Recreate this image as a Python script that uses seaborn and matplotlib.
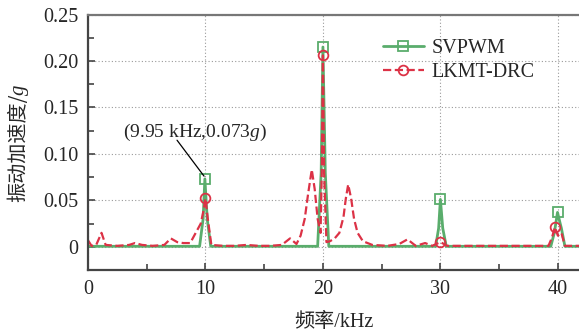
import matplotlib
matplotlib.use("Agg")
import matplotlib.pyplot as plt
import seaborn as sns

# Vibration acceleration spectra (kHz, g)
svpwm_freq = [0.0, 9.5, 9.8, 9.95, 10.15, 10.45, 19.55, 19.85, 20.0, 20.2, 20.5,
              29.6, 29.85, 30.0, 30.2, 30.5, 39.4, 39.7, 39.97, 40.2, 40.3, 40.6, 41.8]
svpwm_acc = [0.0005, 0.0005, 0.03, 0.073, 0.03, 0.0005, 0.0005, 0.08, 0.215, 0.08, 0.0005,
             0.0005, 0.02, 0.051, 0.02, 0.0005, 0.0005, 0.015, 0.037, 0.025, 0.02, 0.0005,
             0.0005]
svpwm_marks = [3, 8, 13, 18]

lkmt_freq = [0.0, 0.3, 0.7, 1.15, 1.5, 2.5, 3.5, 4.0, 4.6, 5.5, 6.5, 7.05, 7.6, 8.1,
             8.7, 9.3, 9.6, 9.85, 10.0, 10.2, 10.5, 11.5, 12.5, 13.5, 14.5, 15.5,
             16.5, 17.2, 17.75, 18.1, 18.45, 18.75, 19.05, 19.3, 19.55, 19.8, 19.9,
             20.0, 20.1, 20.3, 20.6, 21.0, 21.4, 21.75, 21.95, 22.15, 22.4, 22.65,
             22.95, 23.4, 24.2, 25.5, 26.5, 27.2, 27.9, 28.7, 29.3, 30.0, 30.6, 32.0,
             34.0, 36.0, 38.0, 39.2, 39.5, 39.75, 40.0, 40.3, 40.6, 41.8]
lkmt_acc = [0.007, 0.001, 0.002, 0.015, 0.002, 0.001, 0.002, 0.004, 0.002, 0.001,
            0.002, 0.009, 0.005, 0.004, 0.004, 0.018, 0.025, 0.04, 0.052, 0.03,
            0.002, 0.001, 0.001, 0.002, 0.001, 0.001, 0.002, 0.009, 0.003, 0.012,
            0.03, 0.058, 0.083, 0.062, 0.03, 0.015, 0.08, 0.206, 0.08, 0.005,
            0.006, 0.009, 0.015, 0.032, 0.052, 0.067, 0.052, 0.03, 0.015, 0.006,
            0.002, 0.001, 0.003, 0.008, 0.001, 0.004, 0.001, 0.005, 0.001, 0.001,
            0.001, 0.001, 0.001, 0.001, 0.01, 0.021, 0.012, 0.015, 0.001, 0.001]
lkmt_marks = [18, 37, 57, 65]

x_ticks = [0, 10, 20, 30, 40]
y_ticks = [0, 0.05, 0.10, 0.15, 0.20, 0.25]
y_tick_labels = ["0", "0.05", "0.10", "0.15", "0.20", "0.25"]

sns.set_style("white")
plt.rcParams["font.family"] = ["Liberation Serif", "Noto Sans CJK SC"]
plt.rcParams["mathtext.fontset"] = "custom"
plt.rcParams["mathtext.rm"] = "Liberation Serif"
plt.rcParams["mathtext.it"] = "Liberation Serif:italic"

W, H = 579, 332
fig = plt.figure(figsize=(W / 100, H / 100), dpi=100)
ax = fig.add_axes([88 / W, 1 - 270 / H, 1 - 88 / W, (270 - 14.5) / H])

green = "#5aad6c"
red = "#dc3246"

sns.lineplot(x=svpwm_freq, y=svpwm_acc, ax=ax, color=green, lw=2.0,
             marker="s", markevery=svpwm_marks, ms=7, mfc="none", mec=green,
             mew=1.3, label="SVPWM", sort=False)
sns.lineplot(x=lkmt_freq, y=lkmt_acc, ax=ax, color=red, lw=1.6, linestyle="--",
             dashes=(3.5, 2.0), marker="o", markevery=lkmt_marks, ms=7,
             mfc="none", mec=red, mew=1.3, label="LKMT-DRC", sort=False)

ax.set_xlim(0, 41.8)
ax.set_ylim(-0.025, 0.25)
ax.set_xticks(x_ticks)
ax.set_xticks([5, 15, 25, 35], minor=True)
ax.set_yticks(y_ticks)
ax.set_yticklabels(y_tick_labels)
ax.set_yticks([0.025, 0.075, 0.125, 0.175, 0.225], minor=True)
ax.grid(True, which="major", color="#9a9a9a", linestyle=(0, (1, 2)), lw=0.8)
ax.tick_params(axis="both", which="major", direction="in", length=5, width=1.2,
               labelsize=14.5, color="#444444", left=True, bottom=True, pad=7)
ax.tick_params(axis="both", which="minor", direction="in", length=4, width=1.2,
               color="#444444", left=True, bottom=True)

for side in ["left", "bottom"]:
    ax.spines[side].set_color("#444444")
    ax.spines[side].set_linewidth(1.6)
ax.spines["top"].set_color("#777777")
ax.spines["top"].set_linewidth(1.6)
ax.spines["right"].set_visible(False)

ax.set_xlabel("频率/kHz", fontsize=14.5, labelpad=10)

# Peak annotation: leader line and label
ax.annotate("", xy=(9.88, 0.076), xytext=(7.58, 0.1147),
            arrowprops=dict(arrowstyle="-", color="black", lw=0.9,
                            shrinkA=0, shrinkB=0))
ax.text(9.1, 0.1228, "(9.95 kHz,0.073$g$)", fontsize=14, ha="center", va="center")

ax.legend(loc="upper left", bbox_to_anchor=(0.585, 0.935), frameon=False,
          fontsize=14.5, handlelength=2.0, handletextpad=0.4, labelspacing=0.25,
          borderaxespad=0)

# Y label: Chinese text followed by an italic g, rotated
ylab_x = 18.5 / W
t1 = fig.text(ylab_x, 0.5, "振动加速度/", rotation=90, ha="center", va="bottom",
              fontsize=14.5, family=["Noto Sans CJK SC", "Liberation Serif"])
t2 = fig.text(ylab_x, 0.5, "g", rotation=90, ha="center", va="bottom",
              fontsize=15, family="Liberation Serif", style="italic")
fig.canvas.draw()
r = fig.canvas.get_renderer()
h1 = t1.get_window_extent(r).height
h2 = t2.get_window_extent(r).height
start = (H - 143) - (h1 + h2) / 2
t1.set_position((ylab_x, start / H))
t2.set_position((ylab_x + 1 / W, (start + h1 - 1) / H))

fig.savefig("out.png", dpi=100)
